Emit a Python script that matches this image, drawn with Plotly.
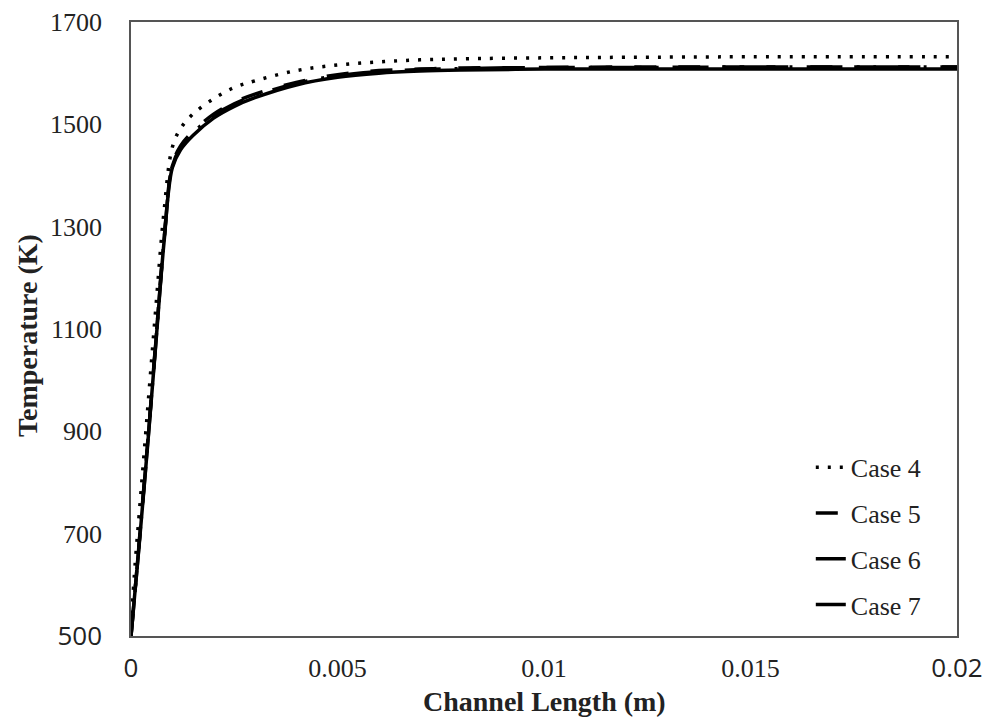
import plotly.graph_objects as go

x_m = [0, 0.0001, 0.0002, 0.0004, 0.0006, 0.0008, 0.001, 0.0012, 0.0015, 0.002,
       0.0025, 0.003, 0.004, 0.005, 0.006, 0.007, 0.008, 0.01, 0.012, 0.015, 0.02]

case4 = [520, 640, 740, 940, 1140, 1330, 1455, 1492, 1520, 1550,
         1572, 1585, 1605, 1616, 1622, 1626, 1628, 1630, 1631, 1632, 1632]
case5 = [500, 590, 685, 875, 1075, 1275, 1420, 1458, 1486, 1520,
         1543, 1559, 1582, 1597, 1605, 1608, 1610, 1611, 1612, 1612, 1612]
case6 = [500, 590, 680, 870, 1070, 1270, 1415, 1450, 1478, 1512,
         1535, 1552, 1577, 1592, 1600, 1604, 1606, 1608, 1608, 1608, 1608]
case7 = [500, 590, 683, 873, 1073, 1273, 1418, 1455, 1483, 1517,
         1540, 1556, 1580, 1595, 1603, 1607, 1609, 1611, 1611, 1612, 1612]

names = ["Case 4", "Case 5", "Case 6", "Case 7"]
series = [case4, case5, case6, case7]
dashes = ["3px,9px", "22px,22px", "solid", "36px,14px,3px,14px"]

x_ticks = [0, 0.005, 0.01, 0.015, 0.02]
x_labels = ['<span style="font-family:Open Sans">0</span>', "0.005", "0.01", "0.015",
            '<span style="font-family:Open Sans">0.02</span>']
y_ticks = [500, 700, 900, 1100, 1300, 1500, 1700]
y_labels = ['<span style="font-family:Open Sans">500</span>', "700", "900", "1100",
            "1300", "1500", "1700"]
x_title = "<b>Channel Length (m)</b>"
y_title = "<b>Temperature (K)</b>"

fig = go.Figure()
for i, (name, ys, d) in enumerate(zip(names, series, dashes)):
    fig.add_trace(go.Scatter(x=x_m, y=ys, name=name, mode="lines", legendgroup=f"g{i}",
                             line=dict(color="black", width=3.5, dash=d, shape="spline")))

font = "Liberation Serif, Times New Roman, serif"
fig.update_layout(
    width=987, height=717,
    margin=dict(l=131, r=30, t=22, b=81),
    paper_bgcolor="white", plot_bgcolor="white",
    font=dict(family=font, size=26, color="#222"),
    showlegend=True,
    legend=dict(x=0.823, y=0.313, xanchor="left", yanchor="top",
                bgcolor="rgba(0,0,0,0)", font=dict(size=26, color="#222"),
                tracegroupgap=9),
    xaxis=dict(range=[0, 0.02], tickvals=x_ticks, ticktext=x_labels,
               showgrid=False, zeroline=False, showline=True, mirror=True,
               linecolor="#555", linewidth=1.5, ticks="", automargin=False,
               ticklabelstandoff=8),
    yaxis=dict(range=[500, 1700], tickvals=y_ticks, ticktext=y_labels,
               showgrid=False, zeroline=False, showline=True, mirror=True,
               linecolor="#555", linewidth=1.5, ticks="", automargin=False,
               ticklabelstandoff=22),
    annotations=[
        dict(text=x_title, xref="paper", yref="paper", x=0.5, y=-0.106,
             xanchor="center", yanchor="middle", showarrow=False,
             font=dict(size=28, color="#222")),
        dict(text=y_title, xref="paper", yref="paper", x=-0.126, y=0.49,
             xanchor="center", yanchor="middle", showarrow=False, textangle=-90,
             font=dict(size=28, color="#222")),
    ],
)
fig.write_html("out.html")
